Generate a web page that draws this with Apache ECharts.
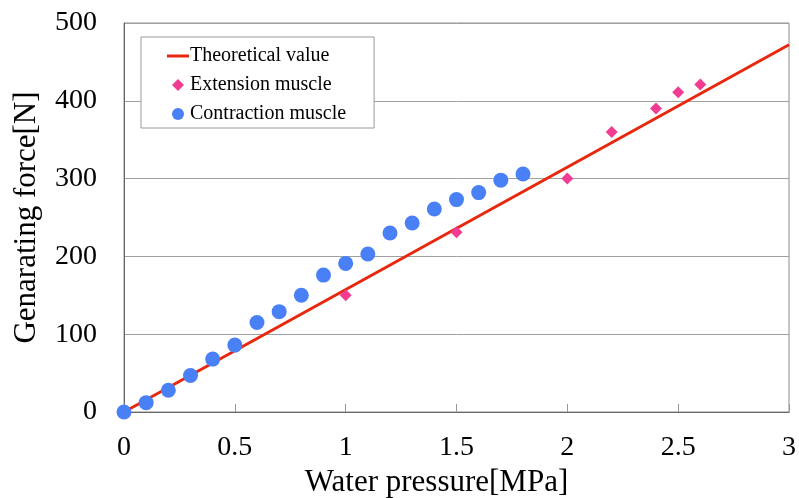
<!DOCTYPE html>
<html>
<head>
<meta charset="utf-8">
<script src="https://cdn.jsdelivr.net/npm/echarts@6/dist/echarts.min.js"></script>
<style>html,body{margin:0;padding:0;background:#fff;overflow:hidden;}#c{width:799px;height:498px;}</style>
</head>
<body>
<div id="c"></div>
<script>
var xTicks = [0, 0.5, 1, 1.5, 2, 2.5, 3];
var yTicks = [0, 100, 200, 300, 400, 500];
var theoreticalX = [0, 3];
var theoreticalY = [0, 472];
var extensionX = [1.0, 1.5, 2.0, 2.2, 2.4, 2.5, 2.6];
var extensionY = [150, 231, 300, 360, 390, 411, 421];
var contractionX = [0, 0.1, 0.2, 0.3, 0.4, 0.5, 0.6, 0.7, 0.8, 0.9, 1.0, 1.1, 1.2, 1.3, 1.4, 1.5, 1.6, 1.7, 1.8];
var contractionY = [0, 12, 28, 47, 68, 86, 115, 129, 150, 176, 191, 203, 230, 243, 261, 273, 282, 298, 306];

function pairs(xs, ys) { return xs.map(function (x, i) { return [x, ys[i]]; }); }

var font = "'Liberation Serif', 'Times New Roman', serif";
var chart = echarts.init(document.getElementById('c'));
chart.setOption({
  animation: false,
  backgroundColor: '#fff',
  textStyle: { fontFamily: font },
  grid: { left: 124, right: 10, top: 23, bottom: 86, containLabel: false, outerBoundsMode: 'none',
    show: true, borderColor: '#8c8c8c', borderWidth: 1 },
  legend: {
    orient: 'vertical', left: 141, top: 37,
    padding: [9, 28, 4, 26],
    backgroundColor: '#fff', borderColor: '#9a9a9a', borderWidth: 1,
    itemGap: 9, itemWidth: 22, itemHeight: 12,
    textStyle: { fontFamily: font, fontSize: 20, color: '#000', padding: [0, 0, 0, -4], lineHeight: 20 },
    data: [
      { name: 'Theoretical value', icon: 'path://M0,8 L22,8 L22,11 L0,11 Z' },
      { name: 'Extension muscle', icon: 'path://M5,0 L10,5 L5,10 L0,5 Z' },
      { name: 'Contraction muscle', icon: 'circle' }
    ]
  },
  xAxis: {
    type: 'value', min: 0, max: 3, interval: 0.5,
    name: 'Water pressure[MPa]', nameLocation: 'middle', nameGap: 53,
    nameTextStyle: { fontFamily: font, fontSize: 31, color: '#000', padding: [0, 40, 0, 0] },
    axisLine: { show: true, onZero: false, lineStyle: { color: '#666', width: 1 } },
    axisTick: { show: true, inside: true, length: 8, lineStyle: { color: '#999' } },
    axisLabel: { fontFamily: font, fontSize: 28, color: '#000', margin: 22,
      formatter: function (v) { return String(v); } },
    splitLine: { show: false }
  },
  yAxis: {
    type: 'value', min: 0, max: 500, interval: 100,
    name: 'Genarating force[N]', nameLocation: 'middle', nameGap: 82,
    nameTextStyle: { fontFamily: font, fontSize: 31, color: '#000' },
    axisLine: { show: true, lineStyle: { color: '#666', width: 1 } },
    axisTick: { show: false },
    axisLabel: { fontFamily: font, fontSize: 28, color: '#000', margin: 27 },
    splitLine: { show: true, lineStyle: { color: '#a0a0a0', width: 1 } }
  },
  series: [
    {
      name: 'Theoretical value', type: 'line', data: pairs(theoreticalX, theoreticalY),
      symbol: 'none', lineStyle: { color: '#e8280e', width: 3 }, itemStyle: { color: '#e8280e' }, z: 2
    },
    {
      name: 'Extension muscle', type: 'scatter', data: pairs(extensionX, extensionY),
      symbol: 'diamond', symbolSize: 12, itemStyle: { color: '#f03c92', opacity: 1 }, z: 3
    },
    {
      name: 'Contraction muscle', type: 'scatter', data: pairs(contractionX, contractionY),
      symbol: 'circle', symbolSize: 15, itemStyle: { color: '#4a80f5', opacity: 1 }, z: 4
    }
  ]
});
</script>
</body>
</html>
